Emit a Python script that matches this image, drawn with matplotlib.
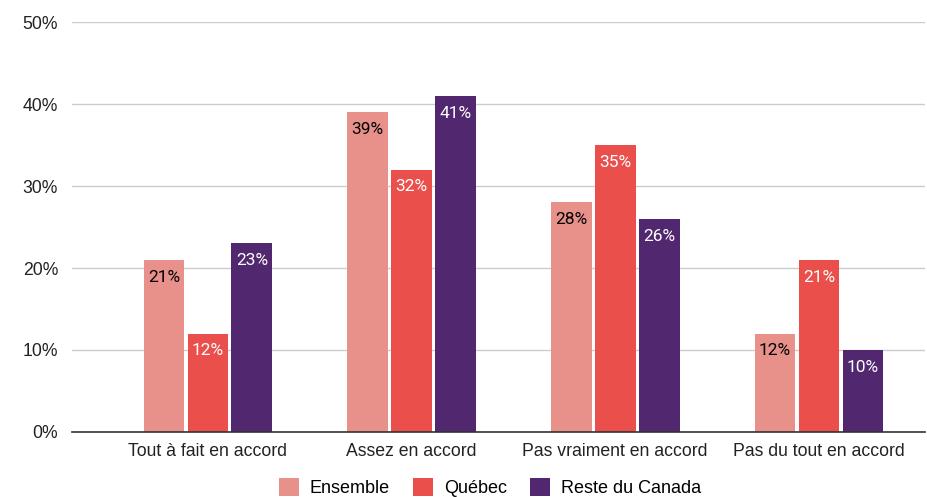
import numpy as np
import matplotlib.pyplot as plt

categories = ['Tout à fait en accord', 'Assez en accord', 'Pas vraiment en accord', 'Pas du tout en accord']
ensemble = [21, 39, 28, 12]
quebec = [12, 32, 35, 21]
reste = [23, 41, 26, 10]
series_names = ['Ensemble', 'Québec', 'Reste du Canada']
colors = ['#E8908A', '#EB4F4C', '#51276F']
label_colors = ['black', 'white', 'white']

fig = plt.figure(figsize=(9.28, 4.97), dpi=100)
ax = fig.add_axes([0.0776, 0.1308, 0.919, 0.8249])

x = np.arange(len(categories))
width = 0.2
offset = 0.216
for i, (vals, name) in enumerate(zip([ensemble, quebec, reste], series_names)):
    pos = x + (i - 1) * offset
    bars = ax.bar(pos, vals, width, color=colors[i], label=name, zorder=3)
    for xp, v in zip(pos, vals):
        ax.annotate(f'{v}%', (xp, v), xytext=(0, -7), textcoords='offset points',
                    ha='center', va='top', fontsize=12.5, color=label_colors[i],
                    family='Roboto', zorder=4)

ax.set_xlim(-0.667, 3.52)
ax.set_ylim(0, 50)
ax.set_yticks([0, 10, 20, 30, 40, 50])
ax.set_yticklabels([f'{t}%' for t in [0, 10, 20, 30, 40, 50]])
ax.set_xticks(x)
ax.set_xticklabels(categories)
ax.tick_params(axis='both', length=0, labelsize=12.7, labelcolor='#222222')
ax.tick_params(axis='y', pad=10)
ax.tick_params(axis='x', pad=8)
for lab in ax.get_xticklabels() + ax.get_yticklabels():
    lab.set_family('Liberation Sans')
ax.yaxis.grid(True, color='#cccccc', linewidth=1, zorder=0)
for s in ['top', 'right', 'left']:
    ax.spines[s].set_visible(False)
ax.spines['bottom'].set_color('#333333')
ax.spines['bottom'].set_linewidth(1.2)
ax.spines['bottom'].set_zorder(5)

leg = ax.legend(loc='upper center', bbox_to_anchor=(0.49, -0.073), ncol=3, frameon=False,
                handlelength=1.1, handleheight=1.1, handletextpad=0.6, columnspacing=1.3,
                prop={'family': 'Liberation Sans', 'size': 13})

fig.savefig('out.png', dpi=100)
